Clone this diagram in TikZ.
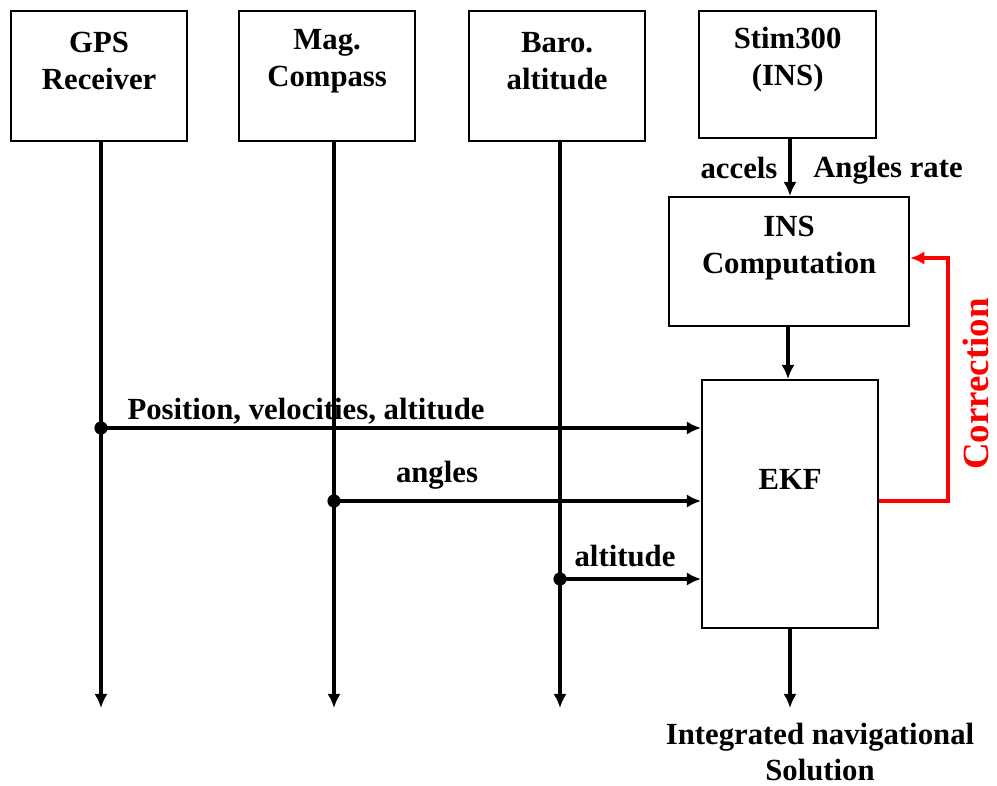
\documentclass[tikz,border=0pt]{standalone}
\usepackage{fontspec}
\setmainfont{Liberation Serif}
\usetikzlibrary{arrows.meta}
\begin{document}
\begin{tikzpicture}[x=0.02cm,y=-0.02cm,
    blk/.style={draw,line width=1.3pt,minimum width=3.52cm,minimum height=2.6cm,anchor=north west},
    lbl/.style={font=\fontsize{17.5}{21}\selectfont\bfseries,align=center,inner sep=1pt},
    arr/.style={line width=1.8pt,-{Latex[length=8pt,width=7.5pt]}},
    dot/.style={circle,fill,inner sep=0pt,minimum size=7.5pt}]
    \useasboundingbox (0,0) rectangle (997,785);
    \node[blk] (gps) at (10,10) {};
    \node[lbl] at (gps.center) [yshift=0.3cm] {GPS\\Receiver};
    \node[blk] (mag) at (238,10) {};
    \node[lbl] at (mag.center) [yshift=0.3cm] {Mag.\\Compass};
    \node[blk] (baro) at (468,10) {};
    \node[lbl] at (baro.center) [yshift=0.3cm] {Baro.\\altitude};
    \node[blk,minimum width=3.54cm,minimum height=2.54cm] (stim) at (698,10) {};
    \node[lbl] at (stim.center) [yshift=0.3cm] {Stim300\\(INS)};
    \node[blk,minimum width=4.8cm,minimum height=2.58cm] (ins) at (668,196) {};
    \node[lbl] at (ins.center) [yshift=0.27cm] {INS\\Computation};
    \node[blk,minimum width=3.52cm,minimum height=4.96cm] (ekf) at (701,379) {};
    \node[lbl] at (ekf.center) [yshift=0.5cm] {EKF};

    \coordinate (gpsend) at (101,708);
    \coordinate (magend) at (334,708);
    \coordinate (baroend) at (560,708);
    \coordinate (outend) at (790,708);
    \coordinate (gpsdot) at (101,428);
    \coordinate (magdot) at (334,501);
    \coordinate (barodot) at (560,579);

    \draw[arr] (gps.south -| gpsend) -- (gpsend);
    \draw[arr] (mag.south -| magend) -- (magend);
    \draw[arr] (baro.south -| baroend) -- (baroend);
    \draw[arr] (stim.south -| outend) -- (ins.north -| outend);
    \draw[arr] (ins.south -| 788,0) -- (ekf.north -| 788,0);
    \draw[arr] (ekf.south -| outend) -- (outend);

    \node[dot] at (gpsdot) {};
    \node[dot] at (magdot) {};
    \node[dot] at (barodot) {};
    \draw[arr] (gpsdot) -- (gpsdot -| ekf.west);
    \draw[arr] (magdot) -- (magdot -| ekf.west);
    \draw[arr] (barodot) -- (barodot -| ekf.west);

    \node[lbl] (pva) at (306,411) {Position, velocities, altitude};
    \node[lbl] (ang) at (437,475) {angles};
    \node[lbl] (alt) at (625,556) {altitude};
    \node[lbl] (acc) at (739,168) {accels};
    \node[lbl] (rate) at (888,170) {Angles rate};
    \node[lbl] (sol) at (820,752) {Integrated navigational\\Solution};

    \draw[red,line width=2pt,-{Latex[length=8pt,width=7.5pt]}] (ekf.east |- magdot) -- (948,501) -- (948,258) -- (ins.east |- 0,258);
    \node[red,font=\fontsize{21}{25}\selectfont\bfseries,rotate=90,inner sep=0pt] (corr) at (976,384) {Correction};
  \end{tikzpicture}
\end{document}
